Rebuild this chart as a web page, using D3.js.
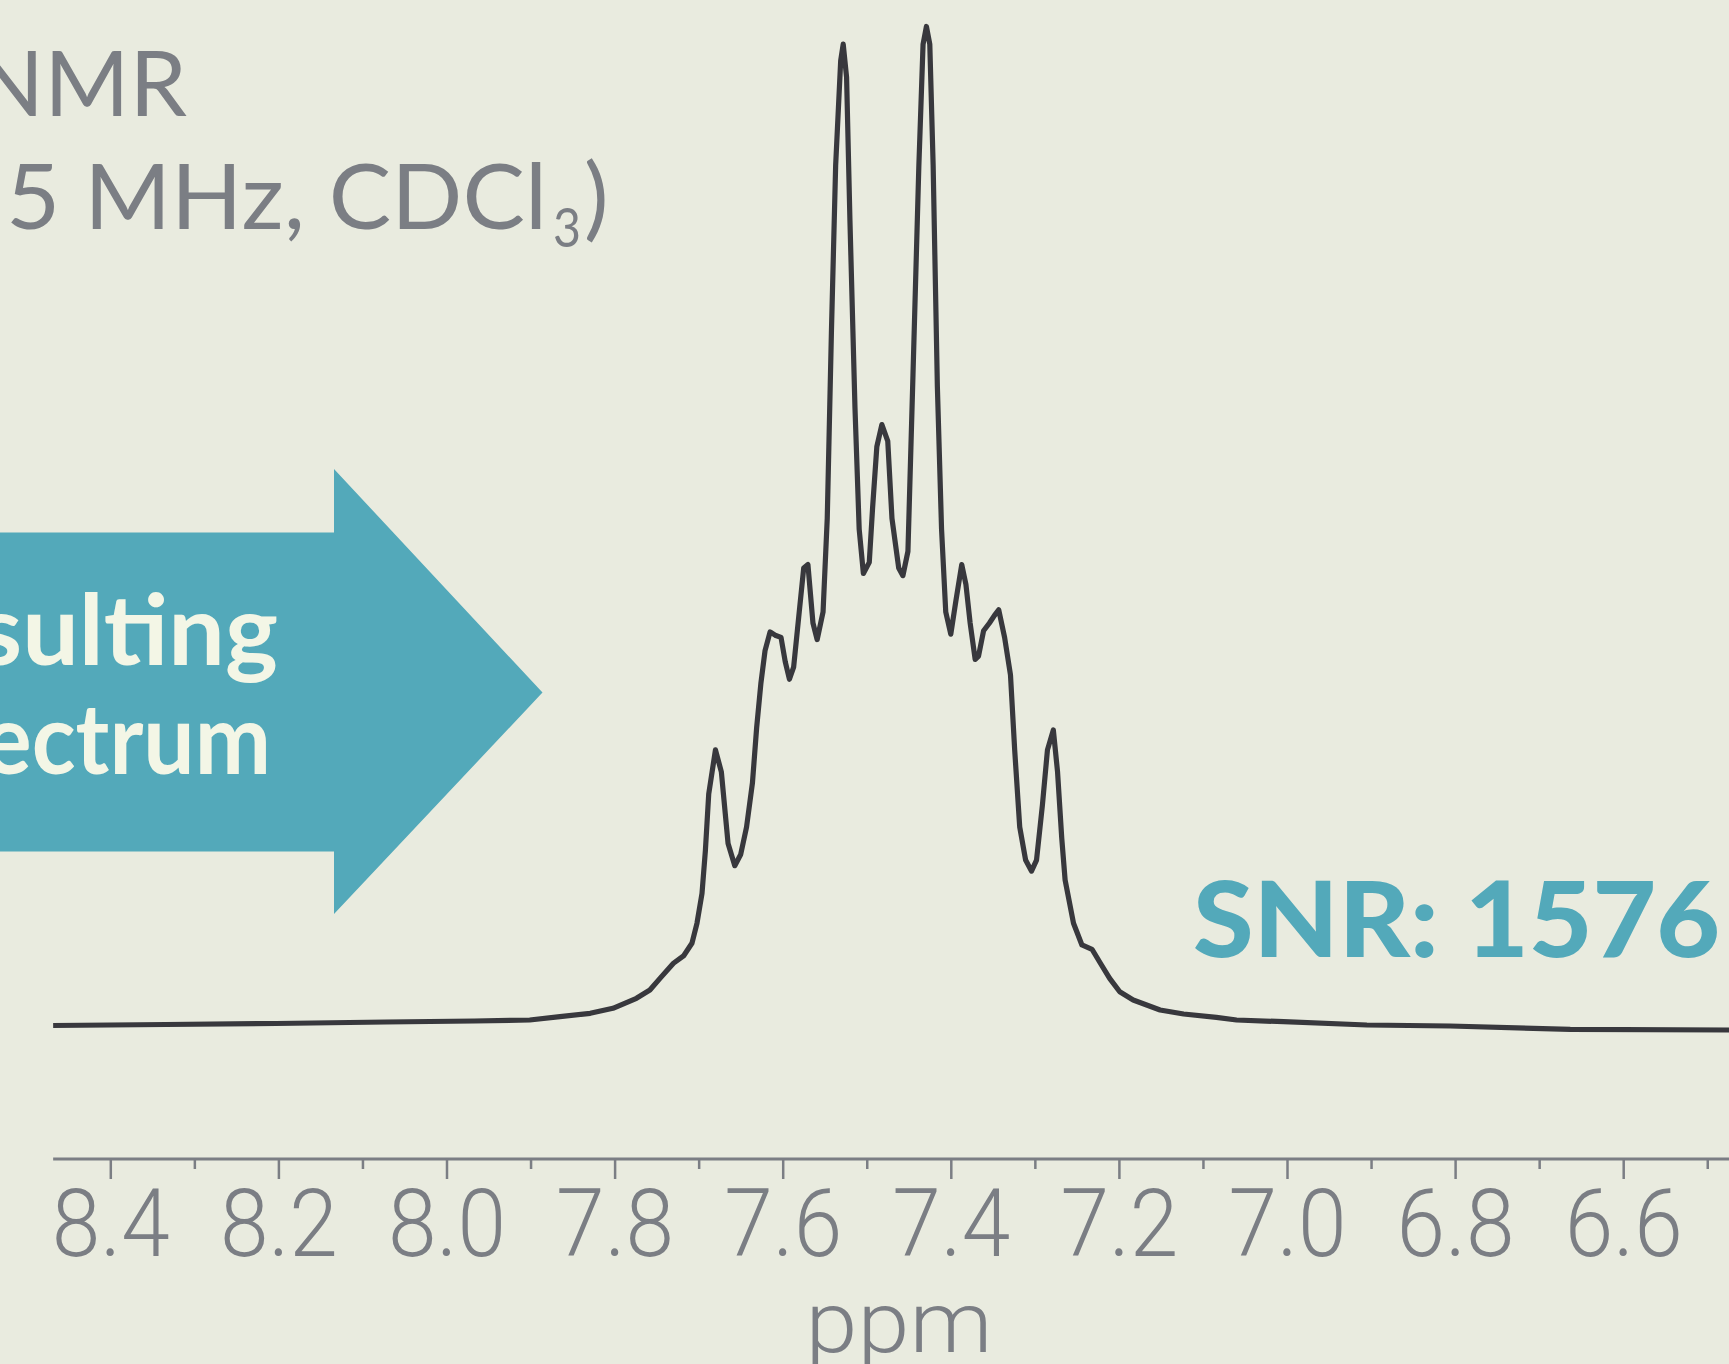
<!DOCTYPE html>
<html>
<head>
<meta charset="utf-8">
<script src="https://cdn.jsdelivr.net/npm/d3@7"></script>
<style>
  html, body { margin: 0; padding: 0; background: #e9ebdf; overflow: hidden; }
</style>
</head>
<body>
<div id="chart"></div>
<script>
// chemical shift (ppm) and relative intensity (% of tallest peak)
var ppm = [8.468, 8.334, 8.203, 8.072, 7.967, 7.901, 7.865, 7.829, 7.802, 7.774,
  7.758, 7.746, 7.730, 7.718, 7.708, 7.702, 7.696, 7.692, 7.688, 7.680,
  7.673, 7.665, 7.657, 7.650, 7.643, 7.636, 7.631, 7.626, 7.621, 7.615,
  7.609, 7.602, 7.597, 7.592, 7.587, 7.581, 7.575, 7.570, 7.564, 7.559,
  7.552, 7.547, 7.542, 7.537, 7.531, 7.528, 7.524, 7.520, 7.514, 7.509,
  7.504, 7.497, 7.493, 7.488, 7.482, 7.475, 7.470, 7.462, 7.457, 7.451,
  7.445, 7.438, 7.433, 7.429, 7.425, 7.421, 7.416, 7.411, 7.406, 7.400,
  7.394, 7.387, 7.382, 7.377, 7.371, 7.367, 7.361, 7.354, 7.348, 7.343,
  7.336, 7.329, 7.324, 7.318, 7.311, 7.304, 7.298, 7.291, 7.285, 7.278,
  7.273, 7.268, 7.264, 7.254, 7.244, 7.232, 7.222, 7.211, 7.199, 7.183,
  7.151, 7.123, 7.084, 7.060, 7.004, 6.905, 6.806, 6.663, 6.474];
var intensity = [0, 0.1, 0.2, 0.35, 0.45, 0.55, 0.88, 1.22, 1.72, 2.72,
  3.55, 4.72, 6.23, 6.96, 8.23, 10.23, 13.23, 17.5, 23.18, 27.59,
  25.39, 18.21, 16.0, 17.11, 19.87, 24.28, 29.8, 34.22, 37.53, 39.4,
  39.07, 38.85, 36.42, 34.66, 35.87, 40.84, 45.8, 46.14, 40.29, 38.63,
  41.39, 50.77, 69.54, 86.09, 96.58, 98.23, 94.92, 80.57, 61.81, 49.67,
  45.25, 46.36, 51.88, 57.95, 60.15, 58.5, 50.77, 45.8, 45.03, 47.46,
  65.12, 86.09, 98.23, 100, 98.23, 86.09, 64.02, 49.67, 41.39, 39.18,
  42.49, 46.14, 44.15, 40.29, 36.64, 36.98, 39.51, 40.29, 41.06, 41.61,
  38.85, 35.1, 27.59, 19.87, 16.56, 15.45, 16.56, 22.08, 27.59, 29.58,
  25.39, 18.76, 14.56, 10.23, 8.06, 7.63, 6.23, 4.72, 3.38, 2.55,
  1.55, 1.15, 0.82, 0.55, 0.38, 0.05, -0.05, -0.38, -0.45];

var majorTicks = [8.4, 8.2, 8.0, 7.8, 7.6, 7.4, 7.2, 7.0, 6.8, 6.6];
var minorTicks = [8.3, 8.1, 7.9, 7.7, 7.5, 7.3, 7.1, 6.9, 6.7, 6.5];
var tickLabels = ["8.4", "8.2", "8.0", "7.8", "7.6", "7.4", "7.2", "7.0", "6.8", "6.6"];

const W = 1729, H = 1364,
  AXIS_Y = 1159,
  TEAL = "#53a9ba",
  GREY = "#7b7e84",
  INK = "#38383d",
  CREAM = "#f3f6e6";

var svg = d3.select("#chart").append("svg")
  .attr("width", W).attr("height", H)
  .style("display", "block");

svg.append("rect").attr("width", W).attr("height", H).attr("fill", "#e9ebdf");

var x = d3.scaleLinear().domain([8.4, 6.6]).range([110.3, 1623.2]);
var y = d3.scaleLinear().domain([0, 100]).range([1025.5, 26.5]);

// arrow
var arrow = [[-5, 532.6], [334, 532.6], [334, 469], [542.5, 692.5], [334, 914], [334, 851.5], [-5, 851.5]];
svg.append("path")
  .attr("d", d3.line()(arrow) + "Z")
  .attr("fill", TEAL);

var arrowFont = "Lato, 'Open Sans', sans-serif";
svg.append("text").attr("x", -22).attr("y", 665)
  .attr("textLength", 300).attr("lengthAdjust", "spacingAndGlyphs")
  .style("font-family", arrowFont).style("font-weight", 700).style("font-size", "97px")
  .attr("fill", CREAM).text("sulting");
svg.append("text").attr("x", -17).attr("y", 774)
  .attr("textLength", 288).attr("lengthAdjust", "spacingAndGlyphs")
  .style("font-family", arrowFont).style("font-weight", 700).style("font-size", "97px")
  .attr("fill", CREAM).text("ectrum");

// title
var titleFont = "Lato, 'Noto Sans', sans-serif";
svg.append("text").attr("x", -26).attr("y", 116)
  .attr("textLength", 213).attr("lengthAdjust", "spacingAndGlyphs")
  .style("font-family", titleFont).style("font-size", "92px")
  .attr("fill", GREY).text("NMR");
svg.append("text").attr("x", 6).attr("y", 229)
  .attr("textLength", 541).attr("lengthAdjust", "spacingAndGlyphs")
  .style("font-family", titleFont).style("font-size", "92px")
  .attr("fill", GREY).text("5 MHz, CDCl");
svg.append("text").attr("x", 553).attr("y", 247)
  .attr("textLength", 28).attr("lengthAdjust", "spacingAndGlyphs")
  .style("font-family", titleFont).style("font-size", "55px")
  .attr("fill", GREY).text("3");
svg.append("text").attr("x", 584).attr("y", 229)
  .style("font-family", titleFont).style("font-size", "92px")
  .attr("fill", GREY).text(")");

// SNR label
svg.append("text").attr("x", 1193).attr("y", 957)
  .attr("textLength", 527).attr("lengthAdjust", "spacingAndGlyphs")
  .style("font-family", "Lato, sans-serif").style("font-weight", 900).style("font-size", "104px")
  .attr("fill", TEAL).text("SNR: 1576");

// spectrum
var pts = ppm.map(function(p, i) { return [p, intensity[i]]; });
svg.append("path")
  .datum(pts)
  .attr("fill", "none")
  .attr("stroke", INK)
  .attr("stroke-width", 5.2)
  .attr("stroke-linejoin", "round")
  .attr("d", d3.line().x(function(d) { return x(d[0]); }).y(function(d) { return y(d[1]); }));

// axis
var axisG = svg.append("g").attr("transform", "translate(0," + AXIS_Y + ")");
axisG.append("line")
  .attr("x1", x(8.468)).attr("x2", W)
  .attr("stroke", GREY).attr("stroke-width", 3);

var minorAxis = d3.axisBottom(x).tickValues(minorTicks).tickSize(10).tickFormat("");
var minorG = axisG.append("g").call(minorAxis);
minorG.select(".domain").remove();
minorG.selectAll("line").attr("stroke", GREY).attr("stroke-width", 2.5);

var majorAxis = d3.axisBottom(x).tickValues(majorTicks).tickSize(20)
  .tickFormat(function(d, i) { return tickLabels[i]; });
var majorG = axisG.append("g").call(majorAxis);
majorG.select(".domain").remove();
majorG.selectAll("line").attr("stroke", GREY).attr("stroke-width", 2.5);
majorG.selectAll("text")
  .attr("y", 97).attr("dy", null)
  .attr("fill", GREY)
  .attr("textLength", 118).attr("lengthAdjust", "spacingAndGlyphs")
  .style("font-family", "'Liberation Sans Narrow', Roboto, sans-serif")
  .style("font-weight", 300)
  .style("font-size", "95px");

svg.append("text")
  .attr("x", 899).attr("y", 1352)
  .attr("text-anchor", "middle")
  .attr("textLength", 187).attr("lengthAdjust", "spacingAndGlyphs")
  .style("font-family", "Roboto, sans-serif").style("font-weight", 300).style("font-size", "86px")
  .attr("fill", GREY).text("ppm");
</script>
</body>
</html>
